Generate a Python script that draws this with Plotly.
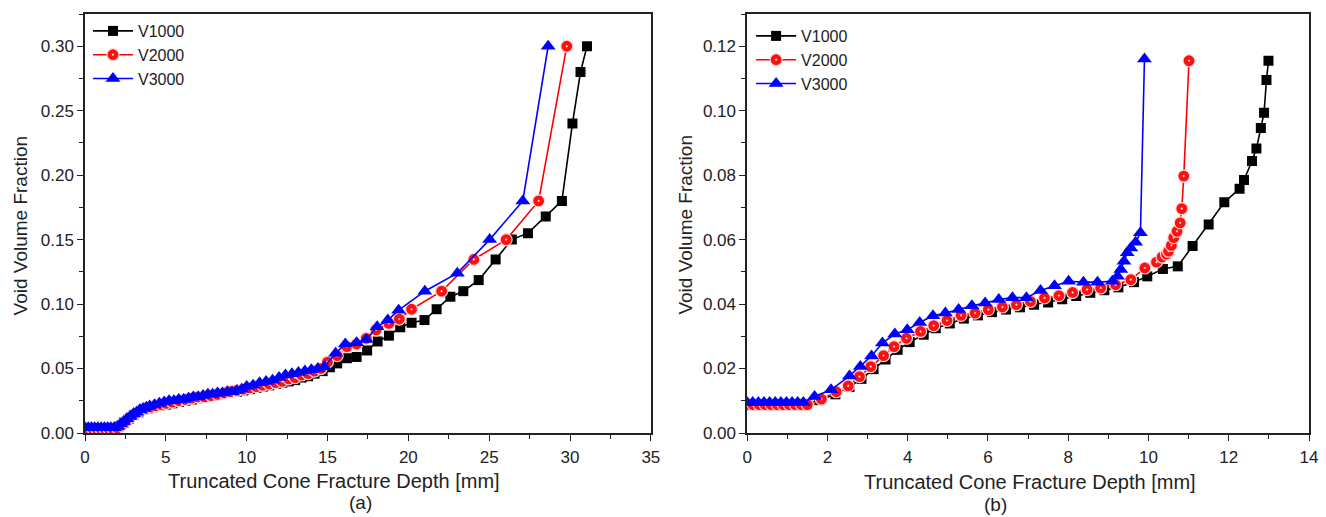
import plotly.graph_objects as go

# ---------------- Panel (a) data ----------------
x_v1000_a = [0.0, 0.3, 0.6, 0.9, 1.2, 1.5, 1.8, 2.1, 2.4, 2.7, 3.0, 3.3, 3.6, 3.9, 4.2,
             4.6, 5.0, 5.4, 5.8, 6.2, 6.6, 7.0, 7.4, 7.8, 8.2, 8.6, 9.0, 9.4, 9.8,
             10.2, 10.6, 11.0, 11.4, 11.8, 12.2, 12.6, 13.0, 13.4, 13.8, 14.2, 14.7,
             15.15, 15.6, 16.2, 16.8, 17.45, 18.1, 18.8, 19.5, 20.2, 21.0, 21.75, 22.6,
             23.4, 24.35, 25.4, 26.4, 27.4, 28.5, 29.5, 30.15, 30.65, 31.05]
y_v1000_a = [0.003, 0.003, 0.003, 0.003, 0.003, 0.003, 0.003, 0.005, 0.008, 0.011, 0.014, 0.016, 0.018, 0.019, 0.020,
             0.021, 0.022, 0.023, 0.024, 0.025, 0.026, 0.027, 0.028, 0.029, 0.030, 0.031, 0.032, 0.032, 0.033,
             0.034, 0.035, 0.036, 0.037, 0.038, 0.039, 0.040, 0.041, 0.043, 0.044, 0.046, 0.048,
             0.051, 0.054, 0.058, 0.059, 0.064, 0.071, 0.0755, 0.082, 0.0855, 0.0876, 0.096, 0.1057,
             0.110, 0.1186, 0.1346, 0.150, 0.155, 0.168, 0.180, 0.240, 0.280, 0.300]

x_v2000_a = [0.0, 0.25, 0.5, 0.75, 1.0, 1.25, 1.5, 1.75, 2.0, 2.25, 2.5, 2.75, 3.0, 3.25, 3.5,
             3.8, 4.1, 4.4, 4.7, 5.0, 5.4, 5.8, 6.2, 6.6, 7.0, 7.4, 7.8, 8.2, 8.6, 9.0, 9.4, 9.8,
             10.2, 10.6, 11.0, 11.4, 11.8, 12.2, 12.6, 13.0, 13.4, 13.8, 14.2, 14.6, 15.0,
             15.6, 16.2, 16.8, 17.4, 18.0, 18.8, 19.44, 20.2, 22.06, 24.05, 26.05, 28.06, 29.8]
y_v2000_a = [0.003, 0.003, 0.003, 0.003, 0.003, 0.003, 0.003, 0.003, 0.004, 0.006, 0.009, 0.012, 0.014, 0.016, 0.018,
             0.019, 0.020, 0.021, 0.022, 0.023, 0.024, 0.025, 0.026, 0.027, 0.028, 0.028, 0.029, 0.030, 0.031, 0.032, 0.033, 0.034,
             0.035, 0.036, 0.037, 0.038, 0.039, 0.040, 0.042, 0.043, 0.045, 0.046, 0.048, 0.050, 0.055,
             0.060, 0.067, 0.069, 0.0734, 0.080, 0.085, 0.0884, 0.096, 0.110, 0.1346, 0.150, 0.180, 0.300]

x_v3000_a = [0.0, 0.2, 0.4, 0.6, 0.8, 1.0, 1.2, 1.4, 1.6, 1.8, 2.0, 2.2, 2.4, 2.6, 2.8,
             3.0, 3.2, 3.4, 3.6, 3.8, 4.0, 4.3, 4.6, 4.9, 5.2, 5.5, 5.8, 6.1, 6.4, 6.7,
             7.0, 7.3, 7.6, 7.9, 8.2, 8.5, 8.8, 9.1, 9.4, 9.7, 10.0, 10.4, 10.8, 11.2, 11.6,
             12.0, 12.4, 12.8, 13.2, 13.6, 14.0, 14.4, 14.8, 15.5, 16.1, 16.8, 17.4, 18.07,
             18.73, 19.4, 21.02, 23.03, 25.03, 27.08, 28.65]
y_v3000_a = [0.004, 0.004, 0.004, 0.004, 0.004, 0.004, 0.004, 0.004, 0.004, 0.004, 0.005, 0.007, 0.009, 0.011, 0.013,
             0.015, 0.016, 0.018, 0.019, 0.020, 0.021, 0.022, 0.023, 0.024, 0.025, 0.025, 0.026, 0.026, 0.027, 0.028,
             0.028, 0.029, 0.030, 0.030, 0.031, 0.031, 0.032, 0.032, 0.033, 0.034, 0.036, 0.037, 0.039, 0.040, 0.041,
             0.043, 0.045, 0.046, 0.047, 0.048, 0.049, 0.050, 0.0514, 0.0618, 0.069, 0.070, 0.0726, 0.0824,
             0.0876, 0.0953, 0.110, 0.124, 0.150, 0.180, 0.300]

# ---------------- Panel (b) data ----------------
x_v1000_b = [0.0, 0.15, 0.3, 0.45, 0.6, 0.75, 0.9, 1.05, 1.2, 1.35, 1.5, 1.8, 2.2, 2.55, 2.85,
             3.15, 3.45, 3.75, 4.05, 4.4, 4.7, 5.05, 5.4, 5.75, 6.1, 6.45, 6.8, 7.15, 7.5, 7.85,
             8.2, 8.55, 8.9, 9.25, 9.64, 9.97, 10.36, 10.73, 11.1, 11.5, 11.89, 12.27, 12.38,
             12.58, 12.69, 12.8, 12.88, 12.94, 12.99]
y_v1000_b = [0.009, 0.009, 0.009, 0.009, 0.009, 0.009, 0.009, 0.009, 0.009, 0.009, 0.009, 0.0102, 0.012, 0.0143, 0.0168,
             0.0198, 0.0228, 0.0258, 0.0282, 0.0305, 0.0325, 0.034, 0.0355, 0.0365, 0.0375, 0.0383, 0.039, 0.0398, 0.0405, 0.0415,
             0.0425, 0.0435, 0.0443, 0.0452, 0.0468, 0.0486, 0.0509, 0.0517, 0.058, 0.0647, 0.0716, 0.0758, 0.0785,
             0.0844, 0.0883, 0.0946, 0.0994, 0.1095, 0.1155]

x_v2000_b = [0.0, 0.15, 0.3, 0.45, 0.6, 0.75, 0.9, 1.05, 1.2, 1.35, 1.5, 1.85, 2.22, 2.52, 2.8,
             3.08, 3.4, 3.66, 3.97, 4.32, 4.65, 4.98, 5.33, 5.68, 6.01, 6.36, 6.71, 7.06, 7.41, 7.77,
             8.11, 8.47, 8.81, 9.18, 9.56, 9.91, 10.2, 10.34, 10.45, 10.5, 10.57, 10.63, 10.71,
             10.79, 10.83, 10.88, 11.01]
y_v2000_b = [0.0088, 0.0088, 0.0088, 0.0088, 0.0088, 0.0088, 0.0088, 0.0088, 0.0088, 0.0088, 0.0088, 0.0105, 0.0128, 0.0146, 0.0175,
             0.0206, 0.024, 0.0268, 0.0294, 0.0315, 0.0333, 0.0349, 0.0365, 0.0372, 0.0383, 0.0391, 0.0398, 0.0408, 0.0419, 0.0426,
             0.0436, 0.0445, 0.045, 0.046, 0.0476, 0.0512, 0.053, 0.0546, 0.0555, 0.0564, 0.0582, 0.0606, 0.0626,
             0.0652, 0.0696, 0.0797, 0.1155]

x_v3000_b = [0.0, 0.14, 0.28, 0.42, 0.56, 0.7, 0.84, 0.98, 1.12, 1.26, 1.4, 1.68, 2.09, 2.55, 2.82,
             3.1, 3.37, 3.68, 3.99, 4.3, 4.63, 4.94, 5.27, 5.6, 5.93, 6.27, 6.61, 6.96, 7.31, 7.66,
             8.01, 8.38, 8.73, 9.1, 9.23, 9.31, 9.39, 9.47, 9.56, 9.68, 9.8, 9.9]
y_v3000_b = [0.0095, 0.0095, 0.0095, 0.0095, 0.0095, 0.0095, 0.0095, 0.0095, 0.0095, 0.0095, 0.0095, 0.0113, 0.0134, 0.0177, 0.0206,
             0.0239, 0.0279, 0.0307, 0.032, 0.0343, 0.0364, 0.0372, 0.0383, 0.0395, 0.0403, 0.0414, 0.042, 0.042, 0.0442, 0.0457,
             0.0471, 0.0468, 0.0468, 0.0471, 0.0486, 0.0507, 0.0533, 0.0559, 0.0574, 0.0592, 0.0621, 0.116]

series_names = ["V1000", "V2000", "V3000"]
x_title = "Truncated Cone Fracture Depth [mm]"
y_title = "Void Volume Fraction"
panel_labels = ["(a)", "(b)"]

FONT = "Liberation Sans, Arial, sans-serif"
TXT = "#222222"

styles = [
    dict(color="#000000", marker=dict(symbol="square", size=10, color="#000000")),
    dict(color="#ff0000", marker=dict(symbol="circle-dot", size=12, color="#ff1010",
                                      line=dict(color="#ffd6d6", width=1.2))),
    dict(color="#0000ff", marker=dict(symbol="triangle-up", size=13, color="#0000ff")),
]

fig = go.Figure()
data_a = [(x_v1000_a, y_v1000_a), (x_v2000_a, y_v2000_a), (x_v3000_a, y_v3000_a)]
data_b = [(x_v1000_b, y_v1000_b), (x_v2000_b, y_v2000_b), (x_v3000_b, y_v3000_b)]

for i, (xs, ys) in enumerate(data_a):
    st = styles[i]
    fig.add_trace(go.Scatter(x=xs, y=ys, mode="lines+markers", name=series_names[i],
                             line=dict(color=st["color"], width=1.6), marker=st["marker"],
                             xaxis="x", yaxis="y", legend="legend"))
for i, (xs, ys) in enumerate(data_b):
    st = styles[i]
    fig.add_trace(go.Scatter(x=xs, y=ys, mode="lines+markers", name=series_names[i],
                             line=dict(color=st["color"], width=1.6), marker=st["marker"],
                             xaxis="x2", yaxis="y2", legend="legend2"))

axis_common = dict(showline=True, linecolor="#222222", linewidth=1.5, mirror=True,
                   ticks="outside", ticklen=6, tickwidth=1.3, tickcolor="#222222",
                   showgrid=False, zeroline=False,
                   tickfont=dict(family=FONT, size=17, color=TXT))

L, R, T, B = 85, 8, 14, 84
W, H = 1326, 517
pw = W - L - R
ph = H - T - B
def xp(px):
    return (px - L) / pw
def yp(py):
    return (H - B - py) / ph

fig.update_layout(
    width=W, height=H,
    margin=dict(l=L, r=R, t=T, b=B),
    paper_bgcolor="white", plot_bgcolor="white",
    font=dict(family=FONT, color=TXT),
    xaxis=dict(domain=[0, xp(655)], range=[0, 35], dtick=5, tick0=0,
               minor=dict(ticks="outside", ticklen=4, dtick=2.5, tickcolor="#222222"),
               anchor="y", ticklabelstandoff=2, **axis_common),
    yaxis=dict(domain=[0, 1], range=[0, 0.325], dtick=0.05, tick0=0, tickformat=".2f",
               minor=dict(ticks="outside", ticklen=4, dtick=0.025, tickcolor="#222222"),
               anchor="x", **axis_common),
    xaxis2=dict(domain=[xp(752), 1], range=[0, 14], dtick=2, tick0=0,
                minor=dict(ticks="outside", ticklen=4, dtick=1, tickcolor="#222222"),
                anchor="y2", ticklabelstandoff=2, **axis_common),
    yaxis2=dict(domain=[0, 1], range=[0, 0.13], dtick=0.02, tick0=0, tickformat=".2f",
                minor=dict(ticks="outside", ticklen=4, dtick=0.01, tickcolor="#222222"),
                anchor="x2", **axis_common),
    legend=dict(x=xp(88), y=yp(14), xanchor="left", yanchor="top",
                bgcolor="rgba(0,0,0,0)", font=dict(family=FONT, size=16, color=TXT),
                tracegroupgap=0, itemwidth=40),
    legend2=dict(x=xp(756), y=yp(19), xanchor="left", yanchor="top",
                 bgcolor="rgba(0,0,0,0)", font=dict(family=FONT, size=16, color=TXT),
                 tracegroupgap=0, itemwidth=40),
    showlegend=True,
)

ann = []
ann.append(dict(text=x_title, x=xp(336), y=yp(481), xref="paper", yref="paper",
                showarrow=False, xanchor="center", yanchor="middle",
                font=dict(family=FONT, size=20, color=TXT)))
ann.append(dict(text=x_title, x=xp(1037), y=yp(482), xref="paper", yref="paper",
                showarrow=False, xanchor="center", yanchor="middle",
                font=dict(family=FONT, size=20, color=TXT)))
ann.append(dict(text=y_title, x=xp(20), y=yp(225), xref="paper", yref="paper",
                showarrow=False, xanchor="center", yanchor="middle", textangle=-90,
                font=dict(family=FONT, size=19, color=TXT)))
ann.append(dict(text=y_title, x=xp(689), y=yp(225), xref="paper", yref="paper",
                showarrow=False, xanchor="center", yanchor="middle", textangle=-90,
                font=dict(family=FONT, size=19, color=TXT)))
ann.append(dict(text=panel_labels[0], x=xp(363), y=yp(503), xref="paper", yref="paper",
                showarrow=False, xanchor="center", yanchor="middle",
                font=dict(family=FONT, size=19, color=TXT)))
ann.append(dict(text=panel_labels[1], x=xp(1002), y=yp(504), xref="paper", yref="paper",
                showarrow=False, xanchor="center", yanchor="middle",
                font=dict(family=FONT, size=19, color=TXT)))
fig.update_layout(annotations=ann)

fig.write_html("out.html")
